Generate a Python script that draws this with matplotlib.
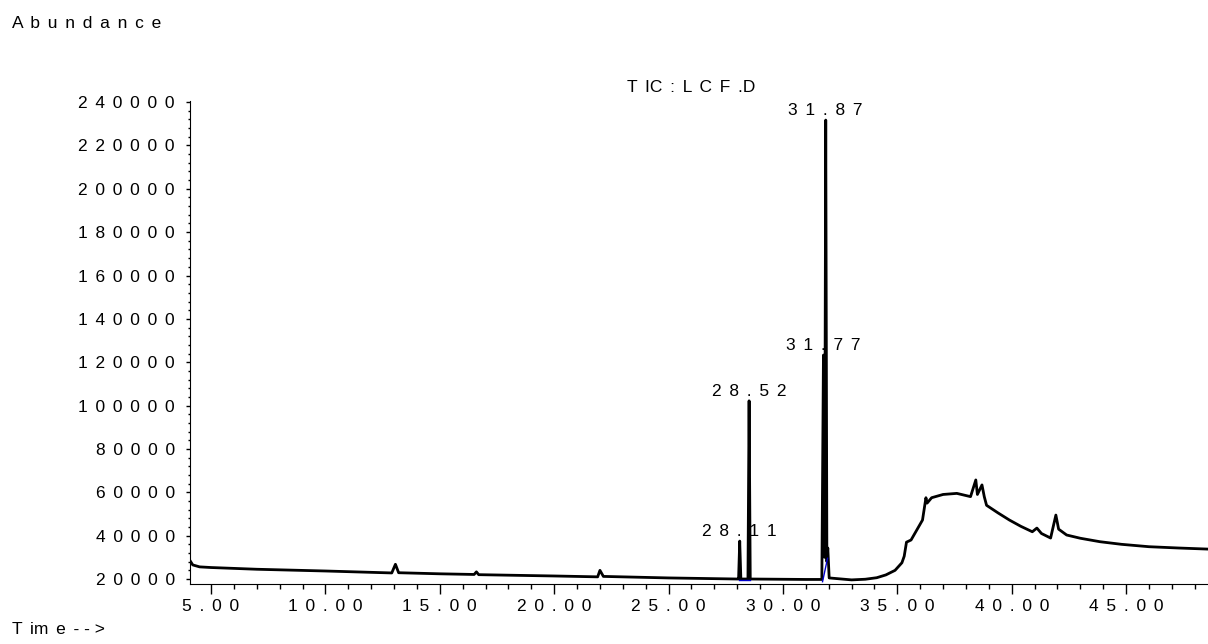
import matplotlib
matplotlib.use("Agg")
import matplotlib.pyplot as plt
from matplotlib.ticker import MultipleLocator, FuncFormatter

plt.rcParams['font.family'] = ['Liberation Sans', 'DejaVu Sans']

# chromatogram trace (retention time in min, abundance)
times = [4.08, 4.2, 4.5, 5.0, 7.0, 10.0, 12.9, 13.06, 13.2, 15.0, 16.5, 16.6, 16.7,
         20.0, 21.9, 22.0, 22.15, 25.0, 28.0, 28.06, 28.11, 28.16, 28.47, 28.52, 28.57,
         31.0, 31.70, 31.77, 31.82, 31.87, 31.92, 31.96, 32.02, 33.0, 33.6, 34.1, 34.5,
         34.9, 35.2, 35.3, 35.4, 35.6, 36.1, 36.25, 36.3, 36.5, 37.0, 37.6, 38.2, 38.43,
         38.5, 38.7, 38.8, 38.9, 39.4, 39.9, 40.4, 40.9, 41.1, 41.3, 41.7, 41.93, 42.05,
         42.4, 43.0, 43.86, 44.8, 46.0, 47.3, 48.58]
abundance = [28500, 26500, 25600, 25300, 24500, 23700, 22800, 26800, 22900, 22400, 22100,
             23300, 22000, 21400, 21000, 24000, 21200, 20500, 20000, 20000, 37500, 20000,
             20000, 102200, 20000, 19800, 19800, 123300, 30000, 231700, 28000, 34300,
             20500, 19600, 19900, 20600, 21900, 24000, 27500, 30500, 37000, 38000, 47200,
             57500, 55000, 57500, 59000, 59500, 58000, 65700, 59000, 63400, 58000, 54000,
             50500, 47200, 44300, 41800, 43500, 41000, 38900, 49500, 43000, 40300, 38800,
             37200, 36000, 34900, 34300, 33800]

# labelled peaks
peak_times = [28.11, 28.52, 31.77, 31.87]
peak_heights = [37500, 102200, 123300, 231700]
peak_labels = ["28.11", "28.52", "31.77", "31.87"]

# integration baselines
base1_t = [28.07, 28.57]
base1_y = [19500, 19500]
base2_t = [31.73, 31.95]
base2_y = [18750, 29550]


def spaced(s):
    return " \u2006".join(s)


fig = plt.figure(figsize=(12.08, 6.44), dpi=100)
ax = fig.add_axes([190 / 1208, 1 - 584 / 644, 1 - 190 / 1208, (584 - 101) / 644])

ax.plot(times, abundance, color='black', linewidth=2.0)
ax.plot(base1_t, base1_y, color='#0000cc', linewidth=1)
ax.plot(base2_t, base2_y, color='#0000cc', linewidth=1)

for t, h, lab in zip(peak_times, peak_heights, peak_labels):
    ax.annotate(spaced(lab), (t, h), xytext=(0, 7), textcoords='offset points',
                ha='center', va='center', fontsize=12.5)

ax.set_xlim(4.08, 48.58)
ax.set_ylim(17700, 240500)

ax.spines['top'].set_visible(False)
ax.spines['right'].set_visible(False)

ax.xaxis.set_major_locator(MultipleLocator(5))
ax.xaxis.set_minor_locator(MultipleLocator(1))
ax.yaxis.set_major_locator(MultipleLocator(20000))
ax.yaxis.set_minor_locator(MultipleLocator(4000))
ax.xaxis.set_major_formatter(FuncFormatter(lambda v, p: spaced(f"{v:.2f}")))
ax.yaxis.set_major_formatter(FuncFormatter(lambda v, p: spaced(f"{v:.0f}")))

ax.tick_params(axis='x', which='major', length=7.5, width=1, pad=3.5, labelsize=12.5)
ax.tick_params(axis='x', which='minor', length=3.6, width=1)
ax.tick_params(axis='y', which='major', length=3, width=1, pad=8, labelsize=12.5)
ax.tick_params(axis='y', which='minor', length=1.5, width=1)

fig.text(12 / 1208, 1 - 23 / 644, spaced("Abundance"), ha='left', va='center', fontsize=12.5)
fig.text(627 / 1208, 1 - 88 / 644, "T \u2006IC \u2006: \u2006L \u2006C \u2006F \u2006.D",
         ha='left', va='center', fontsize=12.5)
fig.text(12 / 1208, 1 - 629 / 644, "T \u2006im \u2006e \u2006- - >", ha='left', va='center',
         fontsize=12.5)

fig.savefig("out.png", dpi=100)
